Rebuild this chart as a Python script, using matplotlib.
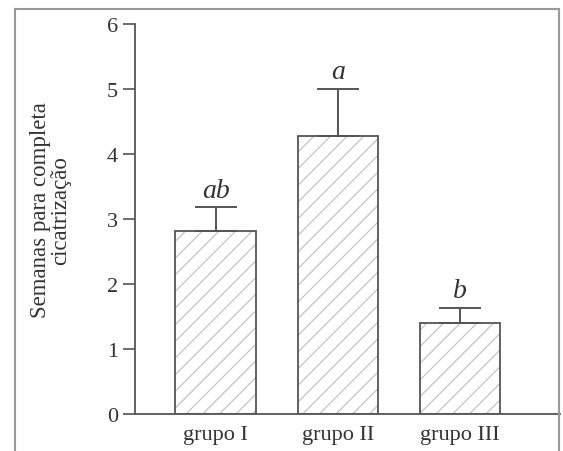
import matplotlib.pyplot as plt
from matplotlib.lines import Line2D

# Dados #

grupos = ['grupo I', 'grupo II', 'grupo III']
medias = [2.82, 4.28, 1.40]
erros = [0.36, 0.72, 0.23]
letras = ['ab', 'a', 'b']

plt.rcParams['font.family'] = ['Liberation Serif', 'DejaVu Serif']
plt.rcParams['hatch.linewidth'] = 0.8

cinza = '#555555'

fig = plt.figure(figsize=(5.63, 4.52), dpi=100)
ax = fig.add_axes([0.24, 0.082, 0.755, 0.863])

x = list(range(len(grupos)))

# hachura clara e contorno escuro separados
ax.bar(x, medias, width=0.66, color='white', edgecolor='#bdbdbd', hatch='//', linewidth=0, zorder=2)
ax.bar(x, medias, width=0.66, fill=False, edgecolor=cinza, linewidth=1.3, zorder=3)
ax.errorbar(x, medias, yerr=[[0] * len(erros), erros], fmt='none', ecolor=cinza,
            elinewidth=1.4, capsize=15, capthick=1.4, zorder=3)

for i in range(len(grupos)):
    ax.text(x[i], medias[i] + erros[i] + 0.07, letras[i], ha='center', va='bottom',
            fontsize=20, style='italic', color='#333333')

ax.set_xlim(-0.66, 2.82)
ax.set_ylim(0, 6)
ax.set_yticks(range(0, 7))
ax.set_xticks(x)
ax.set_xticklabels(grupos)

for s in ['top', 'right']:
    ax.spines[s].set_visible(False)
for s in ['left', 'bottom']:
    ax.spines[s].set_color(cinza)
    ax.spines[s].set_linewidth(1.3)

ax.tick_params(axis='y', length=8.5, width=1.2, color=cinza, labelsize=16, labelcolor='#333333', pad=4)
ax.tick_params(axis='x', length=0, labelsize=16, labelcolor='#333333', pad=8)

fig.text(0.09, 0.535, 'Semanas para completa\ncicatrização', rotation=90, ha='center', va='center',
         fontsize=16.5, color='#333333', linespacing=0.95)

# moldura exterior
for xs, ys in [([0.027, 0.027], [0.0, 0.978]), ([0.027, 0.993], [0.978, 0.978]), ([0.993, 0.993], [0.0, 0.978])]:
    fig.add_artist(Line2D(xs, ys, color='#999999', linewidth=1.5, transform=fig.transFigure))

fig.savefig('out.png', dpi=100)
